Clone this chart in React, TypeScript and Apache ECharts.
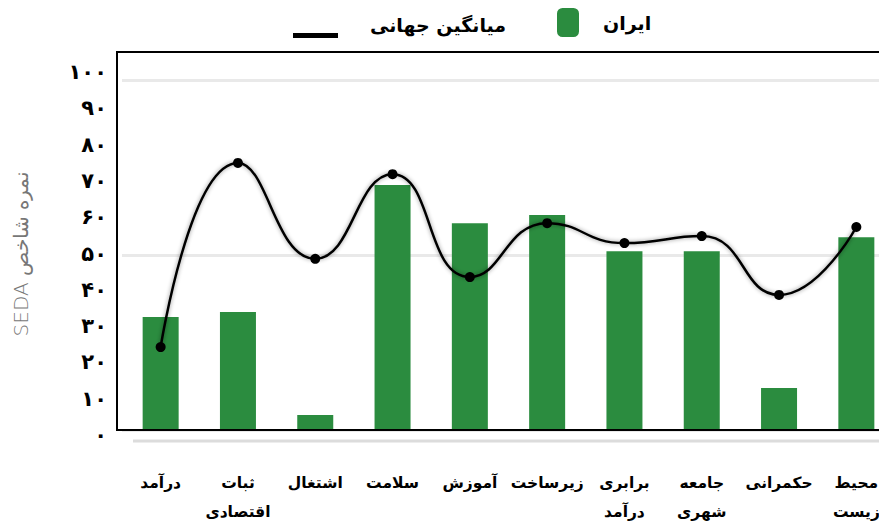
import React, { useEffect, useRef } from "react";
import * as echarts from "echarts";

const categories = [
  "درآمد",
  "ثبات\nاقتصادی",
  "اشتغال",
  "سلامت",
  "آموزش",
  "زیرساخت",
  "برابری\nدرآمد",
  "جامعه\nشهری",
  "حکمرانی",
  "محیط\nزیست",
];
const iranValues = [32.3, 33.7, 4.3, 70, 59.1, 61.4, 51.1, 51.1, 12, 55.1];
const worldAverage = [23.7, 76.3, 48.9, 73.1, 43.7, 59.1, 53.4, 55.4, 38.6, 58];
const yTickLabels = ["۰", "۱۰", "۲۰", "۳۰", "۴۰", "۵۰", "۶۰", "۷۰", "۸۰", "۹۰", "۱۰۰"];
const seriesNames = ["ایران", "میانگین جهانی"];
const yAxisTitle = "\u202Bنمره شاخص SEDA\u202C";

const FONT = "DejaVu Sans";

export default function App() {
  const ref = useRef<HTMLDivElement>(null);
  useEffect(() => {
    if (!ref.current) return;
    const chart = echarts.init(ref.current, undefined, { renderer: "svg" });
    const legendText = {
      fontFamily: FONT,
      fontSize: 19,
      fontWeight: "bold",
      color: "#000",
    };
    chart.setOption({
      animation: false,
      backgroundColor: "#ffffff",
      textStyle: { fontFamily: FONT },
      legend: [
        {
          data: [{ name: seriesNames[1], icon: "rect" }],
          left: 293,
          top: 33,
          padding: 0,
          itemWidth: 45,
          itemHeight: 5,
          selectedMode: false,
          formatter: () => "",
        },
        {
          data: [{ name: seriesNames[1], icon: "rect" }],
          left: 365,
          top: 13,
          padding: 0,
          itemWidth: 0,
          itemHeight: 24,
          selectedMode: false,
          itemStyle: { opacity: 0 },
          textStyle: legendText,
        },
        {
          data: [{ name: seriesNames[0], icon: "roundRect" }],
          left: 557,
          top: 8,
          padding: 0,
          itemWidth: 22,
          itemHeight: 29,
          selectedMode: false,
          textStyle: { ...legendText, padding: [0, 0, 0, 19] },
        },
      ],
      grid: [
        { left: 122, top: 80, width: 773, bottom: 97, containLabel: false },
        { left: 117, top: 72, width: 700, bottom: 92, containLabel: false },
      ],
      xAxis: [
        {
          type: "category",
          gridIndex: 0,
          data: categories,
          axisLine: { show: false },
          axisTick: { show: false },
          axisLabel: {
            margin: 38,
            fontFamily: FONT,
            fontSize: 15.5,
            fontWeight: "bold",
            color: "#000",
            lineHeight: 29,
            interval: 0,
          },
        },
        { type: "value", gridIndex: 1, show: false, min: 0, max: 1 },
      ],
      yAxis: [
        {
          type: "value",
          gridIndex: 0,
          min: 0,
          max: 100,
          interval: 50,
          axisLine: { show: false },
          axisTick: { show: false },
          axisLabel: { show: false },
          splitLine: { show: true, lineStyle: { color: "#e9e9e9", width: 3 } },
        },
        {
          type: "value",
          gridIndex: 1,
          min: 0,
          max: 100,
          interval: 10,
          axisLine: { show: false },
          axisTick: { show: false },
          splitLine: { show: false },
          axisLabel: {
            margin: 10,
            fontFamily: FONT,
            fontSize: 21,
            fontWeight: "bold",
            color: "#000",
            formatter: (v: number) => yTickLabels[Math.round(v / 10)],
          },
          name: yAxisTitle,
          nameLocation: "middle",
          nameRotate: 90,
          nameGap: 86,
          nameTextStyle: {
            fontFamily: FONT,
            fontSize: 20,
            color: "#777",
            fontWeight: 200,
          },
        },
      ],
      graphic: [
        {
          type: "polyline",
          z: 10,
          shape: { points: [[900, 52], [117, 52], [117, 430], [900, 430]] },
          style: { stroke: "#000", lineWidth: 2, fill: "none" },
          silent: true,
        },
        {
          type: "line",
          shape: { x1: 133, y1: 441, x2: 900, y2: 441 },
          style: { stroke: "#dcdcdc", lineWidth: 3 },
          silent: true,
        },
      ],
      series: [
        {
          name: seriesNames[0],
          type: "bar",
          xAxisIndex: 0,
          yAxisIndex: 0,
          data: iranValues,
          barWidth: 36,
          itemStyle: { color: "#2b8c3f" },
          emphasis: { disabled: true },
        },
        {
          name: seriesNames[1],
          type: "line",
          xAxisIndex: 0,
          yAxisIndex: 0,
          data: worldAverage,
          smooth: 0.5,
          symbol: "circle",
          symbolSize: 10,
          itemStyle: { color: "#000" },
          lineStyle: {
            color: "#000",
            width: 2.5,
            shadowColor: "rgba(0,0,0,0.45)",
            shadowBlur: 4,
          },
          z: 5,
          emphasis: { disabled: true },
        },
      ],
    });
    return () => chart.dispose();
  }, []);
  return (
    <div
      ref={ref}
      style={{ position: "fixed", left: 0, top: 0, width: 900, height: 527 }}
    />
  );
}
